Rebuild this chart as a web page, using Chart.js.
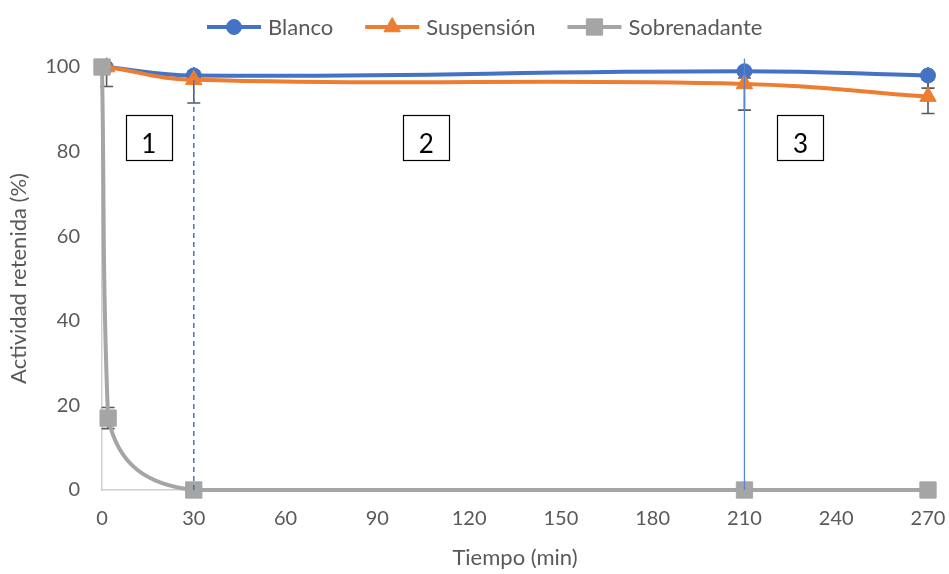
<!DOCTYPE html>
<html>
<head>
<meta charset="utf-8">
<script src="https://cdn.jsdelivr.net/npm/chart.js@4/dist/chart.umd.min.js"></script>
<style>
  html, body { margin: 0; padding: 0; background: #ffffff; }
  #wrap { width: 949px; height: 574px; position: relative; }
</style>
</head>
<body>
<div id="wrap"><canvas id="chart"></canvas></div>
<script>
// Retained activity (%) over time (min)
const seriesNames = ['Blanco', 'Suspensión', 'Sobrenadante'];

const timeBlanco = [1.2, 30, 210, 270];
const blanco = [100, 98, 99, 98];
const blancoErr = [0.5, 1, 1.6, 3];

const timeSuspension = [1.5, 30, 210, 270];
const suspension = [100, 97, 96, 93];
const suspensionErr = [4.6, 5.5, 6.2, 4];

const timeSobrenadante = [0, 2, 30, 210, 270];
const sobrenadante = [100, 17, 0, 0, 0];
const sobrenadanteErr = [0, 2.5, 0, 0, 0];

// Stage boundaries (min) and the height each marker line reaches
const stageBounds = [30, 210];
const stageBoundTop = [98, 102];

// Stage labels, placed in data units
const stageNames = ['1', '2', '3'];
const stageNameX = [15.3, 106, 228.3];
const stageNameY = 83.4;

const xMin = 0, xMax = 270, xStep = 30;
const yMin = 0, yMax = 100, yStep = 20;

const BLUE = '#4472C4', ORANGE = '#ED7D31', GRAY = '#A5A5A5';
const TEXT = '#595959', AXIS = '#d0d0d0', ERR = '#595959';
const FONT = "Lato, 'Open Sans', sans-serif";

const toXY = (xs, ys) => xs.map((x, i) => ({ x, y: ys[i] }));

const seriesStyle = [
  { color: BLUE, style: 'circle', radius: 7.5 },
  { color: ORANGE, style: 'triangle', radius: 9.5 },
  { color: GRAY, style: 'rect', radius: 11.5 }
];

const seriesData = [
  { data: toXY(timeBlanco, blanco), err: blancoErr },
  { data: toXY(timeSuspension, suspension), err: suspensionErr },
  { data: toXY(timeSobrenadante, sobrenadante), err: sobrenadanteErr }
];

const datasets = seriesData.map((s, i) => ({
  label: seriesNames[i],
  data: s.data,
  errors: s.err,
  showLine: true,
  borderColor: seriesStyle[i].color,
  backgroundColor: seriesStyle[i].color,
  borderWidth: 4,
  tension: 0.45,
  pointStyle: seriesStyle[i].style,
  pointRadius: seriesStyle[i].radius,
  pointHoverRadius: seriesStyle[i].radius,
  pointBorderWidth: 1,
  clip: false,
  order: 3 - i
}));

// vertical stage boundary lines
stageBounds.forEach((b, i) => {
  datasets.push({
    label: 'stage' + i,
    data: [{ x: b, y: 0 }, { x: b, y: stageBoundTop[i] }],
    showLine: true,
    borderColor: i === 0 ? BLUE : '#5b85d0',
    borderWidth: i === 0 ? 1.5 : 1.3,
    borderDash: i === 0 ? [5, 4] : [],
    pointRadius: 0,
    pointHoverRadius: 0,
    tension: 0,
    clip: false,
    order: 0
  });
});

function drawMarker(ctx, style, x, y, r, color) {
  ctx.save();
  ctx.fillStyle = color;
  ctx.strokeStyle = color;
  ctx.lineWidth = 1;
  ctx.beginPath();
  if (style === 'circle') {
    ctx.arc(x, y, r, 0, Math.PI * 2);
  } else if (style === 'triangle') {
    ctx.moveTo(x, y - r);
    ctx.lineTo(x + r * Math.sin(2 * Math.PI / 3), y - r * Math.cos(2 * Math.PI / 3));
    ctx.lineTo(x + r * Math.sin(4 * Math.PI / 3), y - r * Math.cos(4 * Math.PI / 3));
    ctx.closePath();
  } else {
    const h = r * Math.SQRT1_2;
    ctx.rect(x - h, y - h, 2 * h, 2 * h);
  }
  ctx.fill();
  ctx.stroke();
  ctx.restore();
}

// error bars (clipped to the plot area)
const errorBars = {
  id: 'errorBars',
  beforeDatasetsDraw(chart) {
    const { ctx, chartArea, scales: { x, y } } = chart;
    ctx.save();
    ctx.beginPath();
    ctx.rect(chartArea.left - 20, chartArea.top, chartArea.right - chartArea.left + 40, chartArea.bottom - chartArea.top);
    ctx.clip();
    ctx.strokeStyle = ERR;
    ctx.lineWidth = 1.6;
    chart.data.datasets.forEach(ds => {
      if (!ds.errors) return;
      ds.data.forEach((p, i) => {
        const e = ds.errors[i];
        if (!e) return;
        const px = x.getPixelForValue(p.x);
        const lo = y.getPixelForValue(p.y - e);
        const hi = y.getPixelForValue(p.y + e);
        ctx.beginPath();
        ctx.moveTo(px, lo); ctx.lineTo(px, hi);
        ctx.moveTo(px - 6.5, lo); ctx.lineTo(px + 6.5, lo);
        ctx.moveTo(px - 6.5, hi); ctx.lineTo(px + 6.5, hi);
        ctx.stroke();
      });
    });
    ctx.restore();
  }
};

// legend row and stage label boxes
const overlay = {
  id: 'overlay',
  afterDraw(chart) {
    const { ctx, scales: { x, y } } = chart;
    ctx.save();
    // legend
    ctx.font = '22px ' + FONT;
    ctx.textBaseline = 'middle';
    ctx.textAlign = 'left';
    const ly = 27;
    let lx = 207;
    seriesNames.forEach((name, i) => {
      const st = seriesStyle[i];
      ctx.strokeStyle = st.color;
      ctx.lineWidth = 4;
      ctx.beginPath();
      ctx.moveTo(lx, ly); ctx.lineTo(lx + 54, ly);
      ctx.stroke();
      drawMarker(ctx, st.style, lx + 27, ly, st.radius, st.color);
      ctx.fillStyle = TEXT;
      ctx.fillText(name, lx + 61, ly + 1);
      lx += 61 + ctx.measureText(name).width + 32;
    });
    // stage boxes
    ctx.font = '26px ' + FONT;
    ctx.textAlign = 'center';
    ctx.textBaseline = 'alphabetic';
    stageNames.forEach((n, i) => {
      const cx = x.getPixelForValue(stageNameX[i]);
      const cy = y.getPixelForValue(stageNameY);
      ctx.fillStyle = '#ffffff';
      ctx.fillRect(cx - 23, cy - 22.5, 46, 45);
      ctx.strokeStyle = '#000000';
      ctx.lineWidth = 1.2;
      ctx.strokeRect(Math.round(cx - 23) + 0.5, Math.round(cy - 22.5) + 0.5, 46, 45);
      ctx.fillStyle = '#000000';
      ctx.fillText(n, cx, cy + 16);
    });
    ctx.restore();
  }
};

new Chart(document.getElementById('chart'), {
  type: 'scatter',
  data: { datasets },
  options: {
    responsive: true,
    maintainAspectRatio: false,
    animation: false,
    events: [],
    layout: { padding: { top: 67, right: 21, bottom: 0, left: 0 } },
    plugins: {
      legend: { display: false },
      tooltip: { enabled: false }
    },
    scales: {
      x: {
        type: 'linear',
        min: xMin, max: xMax,
        afterFit(s) { s.height = 84; s.paddingRight = 0; s.paddingLeft = 0; },
        ticks: { stepSize: xStep, color: TEXT, font: { family: FONT, size: 20 }, padding: 17, maxRotation: 0 },
        grid: { display: false, drawTicks: false },
        border: { display: true, color: AXIS, width: 1.5 },
        title: { display: true, text: 'Tiempo (min)', color: TEXT, font: { family: FONT, size: 22 }, padding: { top: 0, bottom: 3 } }
      },
      y: {
        type: 'linear',
        min: yMin, max: yMax,
        afterFit(s) { s.width = 102; s.paddingTop = 0; s.paddingBottom = 0; },
        ticks: { stepSize: yStep, color: TEXT, font: { family: FONT, size: 20 }, padding: 22 },
        grid: { display: false, drawTicks: false },
        border: { display: true, color: AXIS, width: 1.5 },
        title: { display: true, text: 'Actividad retenida (%)', color: TEXT, font: { family: FONT, size: 22 }, padding: { top: 6, bottom: 0 } }
      }
    }
  },
  plugins: [errorBars, overlay]
});
</script>
</body>
</html>
